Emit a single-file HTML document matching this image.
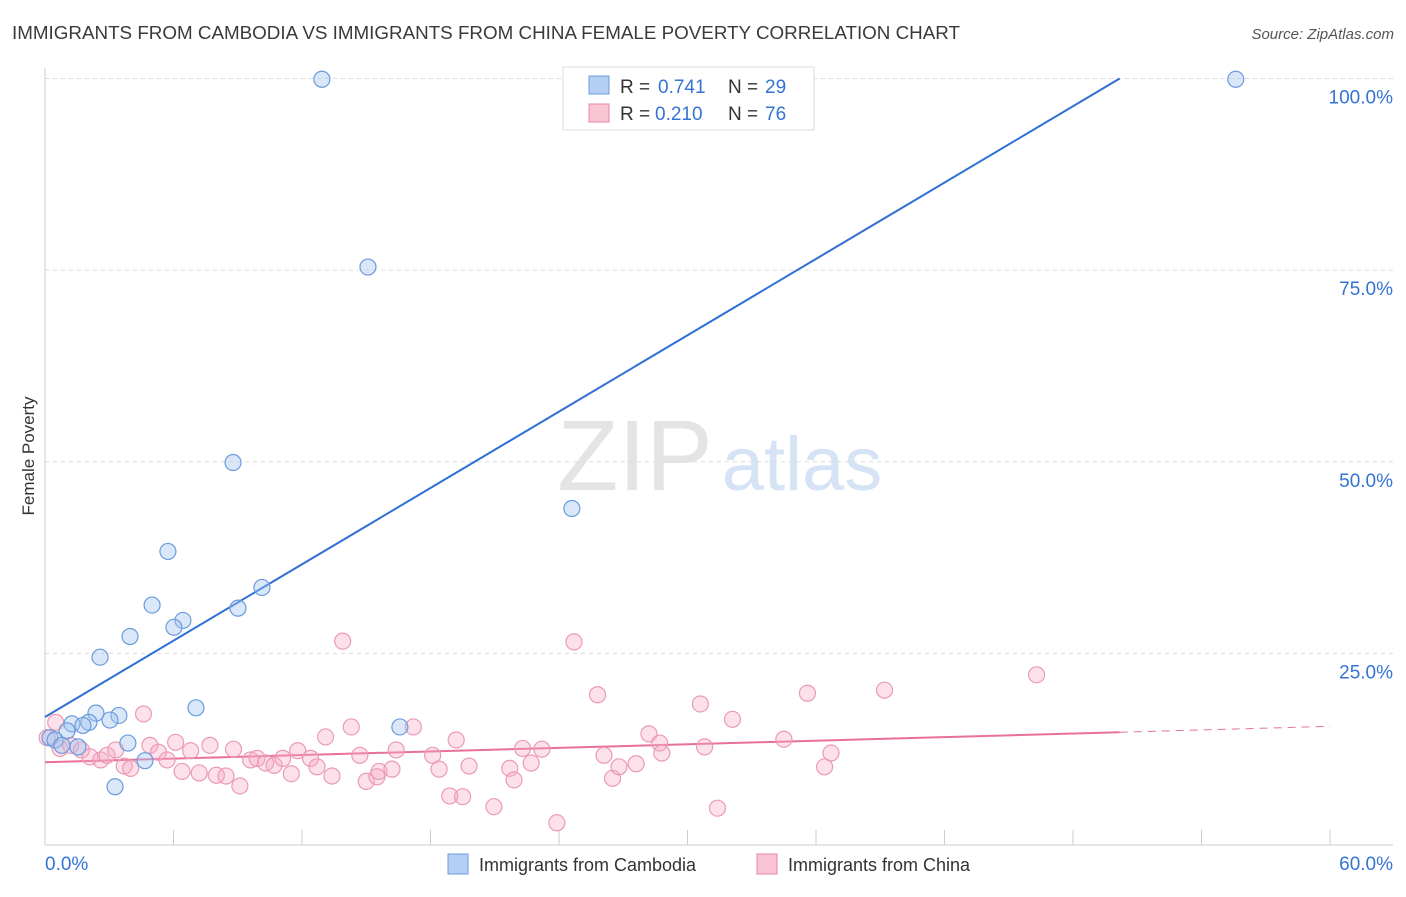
<!DOCTYPE html>
<html><head><meta charset="utf-8"><style>
body{margin:0;background:#fff;font-family:"Liberation Sans",sans-serif}
svg text{font-family:"Liberation Sans",sans-serif}
</style></head><body>
<svg id="chart" width="1406" height="892" xmlns="http://www.w3.org/2000/svg">
<text x="12" y="39" font-size="18" fill="#3a3a3a" textLength="948" lengthAdjust="spacingAndGlyphs">IMMIGRANTS FROM CAMBODIA VS IMMIGRANTS FROM CHINA FEMALE POVERTY CORRELATION CHART</text>
<text x="1394" y="39" font-size="15" fill="#555" text-anchor="end" font-style="italic">Source: ZipAtlas.com</text>
<text transform="translate(34,456) rotate(-90)" font-size="17" fill="#333" text-anchor="middle">Female Poverty</text>
<g>
<text x="635" y="490" font-size="100" fill="#e4e4e4" font-family="Liberation Serif" text-anchor="middle">ZIP</text>
<text x="802" y="490" font-size="76" fill="#d5e3f5" text-anchor="middle">atlas</text>
</g>
<g id="grid"></g><g id="axes"></g><g id="lines"></g><g id="points"></g>
<g>
<rect x="563" y="67" width="251" height="63" fill="#fff" stroke="#ddd"/>
<rect x="589" y="76" width="20" height="18" fill="#b3cff3" stroke="#6b9bdc"/>
<text x="620" y="93" font-size="19" fill="#333">R =</text>
<text x="658" y="93" font-size="19" fill="#3573d4">0.741</text>
<text x="728" y="93" font-size="19" fill="#333">N =</text>
<text x="765" y="93" font-size="19" fill="#3573d4">29</text>
<rect x="589" y="104" width="20" height="18" fill="#f9c4d4" stroke="#e887a6"/>
<text x="620" y="120" font-size="19" fill="#333">R =</text>
<text x="655" y="120" font-size="19" fill="#3573d4">0.210</text>
<text x="728" y="120" font-size="19" fill="#333">N =</text>
<text x="765" y="120" font-size="19" fill="#3573d4">76</text>
</g>
<g>
<rect x="448" y="854" width="20" height="20" fill="#b3cff3" stroke="#6b9bdc"/>
<text x="479" y="871" font-size="18" fill="#333">Immigrants from Cambodia</text>
<rect x="757" y="854" width="20" height="20" fill="#f9c4d4" stroke="#e887a6"/>
<text x="788" y="871" font-size="18" fill="#333">Immigrants from China</text>
</g>
</svg>
<script>
const cambodiaX=[12.93,55.6,15.08,8.78,24.6,5.74,5.0,6.44,6.02,9.01,10.13,3.97,2.57,7.05,2.38,3.45,3.03,2.05,1.26,1.77,1.03,0.23,0.47,0.79,1.54,3.87,4.67,3.27,16.57];
const cambodiaY=[99.9,99.9,75.4,49.9,43.9,38.3,31.3,29.3,28.4,30.9,33.6,27.2,24.5,17.9,17.2,16.9,16.3,16.0,15.8,15.6,14.9,14.0,13.7,13.0,12.8,13.3,11.0,7.6,15.4];
const chinaX=[0.1,0.5,0.7,1.2,1.7,2.1,2.6,2.9,3.3,3.7,4.0,4.6,4.9,5.3,5.7,6.1,6.4,6.8,7.2,7.7,8.0,8.45,8.8,9.1,9.6,9.9,10.3,10.7,11.1,11.5,11.8,12.4,12.7,13.1,13.4,13.9,14.3,14.7,15.0,15.5,15.6,16.2,16.4,17.2,18.1,18.4,18.9,19.2,19.5,19.8,20.96,21.7,21.9,22.3,22.7,23.2,23.9,24.7,25.8,26.1,26.5,26.8,27.6,28.2,28.7,28.8,30.6,30.8,31.4,32.1,34.5,35.6,36.4,36.7,39.2,46.3];
const chinaY=[14,16.0,12.6,13.0,12.4,11.5,11.1,11.7,12.4,10.3,10.0,17.1,13.0,12.1,11.1,13.4,9.6,12.3,9.4,13.0,9.1,9.0,12.5,7.7,11.1,11.3,10.7,10.4,11.3,9.3,12.3,11.3,10.2,14.1,9.0,26.6,15.4,11.7,8.3,8.9,9.6,9.9,12.4,15.4,11.7,9.9,6.4,13.7,6.3,10.3,5.0,10.0,8.5,12.6,10.7,12.5,2.9,26.5,19.6,11.7,8.7,10.2,10.6,14.5,13.3,12.0,18.4,12.8,4.8,16.4,13.8,19.8,10.2,12.0,20.2,22.2];
const cambodiaFit=[16.7,1.66];
const chinaFit=[10.8,0.078];
const xTicks=[0,6,12,18,24,30,36,42,48,54,60];
const yTicks=[25,50,75,100];
const yTickLabels=["25.0%","50.0%","75.0%","100.0%"];
const xs=v=>45+v*(1285/60), ys=v=>845-v*7.665;
const NS="http://www.w3.org/2000/svg";
function mk(p,t,a){const e=document.createElementNS(NS,t);for(const k in a)e.setAttribute(k,a[k]);document.getElementById(p).appendChild(e);return e;}
yTicks.forEach((t,i)=>{
 const g=mk('grid','line',{x1:45,x2:1393,y1:ys(t),y2:ys(t),stroke:'#ddd','stroke-dasharray':'4,4'});
 
 
 const l=mk('axes','text',{x:1393,y:ys(t)+25,'font-size':19,fill:'#3573d4','text-anchor':'end'});
 l.textContent=yTickLabels[i];
 
 
});
const ax=mk('axes','line',{x1:45,x2:1393,y1:845,y2:845,stroke:'#ccc'});


const ay=mk('axes','line',{x1:45,x2:45,y1:68,y2:845,stroke:'#ccc'});


xTicks.forEach(t=>{const k=mk('axes','line',{x1:xs(t),x2:xs(t),y1:830,y2:845,stroke:'#ccc'});
 
 });
const x0=mk('axes','text',{x:45,y:870,'font-size':19,fill:'#3573d4'});x0.textContent=xTicks[0].toFixed(1)+'%';


const x1=mk('axes','text',{x:1393,y:870,'font-size':19,fill:'#3573d4','text-anchor':'end'});x1.textContent=xTicks[xTicks.length-1].toFixed(1)+'%';


chinaX.forEach((x,i)=>{const c=mk('points','circle',{cx:xs(x),cy:ys(chinaY[i]),r:8,fill:'rgba(247,170,195,0.35)',stroke:'#eb9ab5','stroke-width':1.2});
 
 });
cambodiaX.forEach((x,i)=>{const c=mk('points','circle',{cx:xs(x),cy:ys(cambodiaY[i]),r:8,fill:'rgba(160,195,240,0.4)',stroke:'#6b9bdc','stroke-width':1.2});
 
 });
const xEnd=(100-cambodiaFit[0])/cambodiaFit[1];
const bl=mk('lines','line',{x1:xs(0),y1:ys(cambodiaFit[0]),x2:xs(xEnd),y2:ys(100),stroke:'#2f6fd6','stroke-width':2});


const pl=mk('lines','line',{x1:xs(0),y1:ys(chinaFit[0]),x2:xs(xEnd),y2:ys(chinaFit[0]+chinaFit[1]*xEnd),stroke:'#e8709a','stroke-width':2});


const pd=mk('lines','line',{x1:xs(xEnd),y1:ys(chinaFit[0]+chinaFit[1]*xEnd),x2:xs(60),y2:ys(chinaFit[0]+chinaFit[1]*60),stroke:'#e8709a','stroke-width':1,'stroke-dasharray':'8,6'});


</script>
</body></html>
